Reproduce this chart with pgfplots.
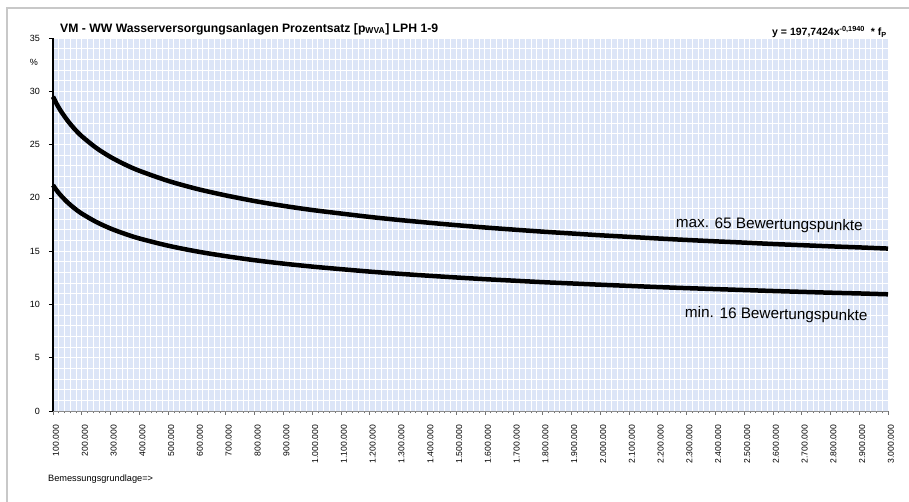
\documentclass[border=0pt]{standalone}
\usepackage{fontspec}
\setmainfont{Liberation Sans}
\usepackage{pgfplots}
\pgfplotsset{compat=1.18}
\definecolor{bgblue}{RGB}{220,229,247}
\definecolor{framegray}{RGB}{200,200,200}
\begin{document}
\begin{tikzpicture}[x=1pt,y=1pt]
\useasboundingbox (0,0) rectangle (909,502);
\draw[framegray, line width=2pt] (7,0) -- (7,494) -- (909,494);
\node[anchor=west, font=\fontsize{12.2}{14}\selectfont\bfseries, inner sep=0pt] at (60,473) {VM - WW Wasserversorgungsanlagen Prozentsatz [p\textsubscript{WVA}] LPH 1-9};
\node[anchor=east, font=\fontsize{10.5}{12}\selectfont\bfseries, inner sep=0pt] at (887,470) {y = 197,7424x\textsuperscript{-0,1940}\ \ * f\textsubscript{P}};
\node[anchor=west, font=\fontsize{9.2}{11}\selectfont, inner sep=0pt] at (48,23) {Bemessungsgrundlage=>};
\node[font=\fontsize{9}{11}\selectfont, inner sep=0pt] at (34,440) {\%};
\begin{axis}[
  at={(53pt,91pt)}, anchor=south west,
  scale only axis, width=835pt, height=373pt,
  xmin=100, xmax=3000, ymin=0, ymax=35,
  axis x line*=bottom, axis y line*=left,
  x axis line style={black!45, line width=0.8pt},
  y axis line style={black, line width=1.2pt},
  axis background/.style={fill=bgblue},
  grid=both,
  major grid style={white, line width=0.9pt},
  minor grid style={white, line width=0.9pt},
  xtick={100,200,...,3000},
  ytick={0,5,...,35},
  minor x tick num=4,
  minor y tick num=4,
  tick align=outside,
  major tick length=4pt,
  minor tick length=2.5pt,
  x tick style={black!55, line width=0.6pt},
  y tick style={black, line width=0.6pt},
  minor y tick style={draw=none},
  /pgf/number format/.cd, fixed, precision=0, 1000 sep={.}, assume math mode=true,
  /pgfplots/.cd,
  xticklabel={\pgfmathprintnumber{\tick}.000},
  xticklabel style={yshift=-10pt, xshift=3pt, rotate=90, anchor=east, inner sep=0pt, font=\fontsize{8.6}{10}\selectfont},
  yticklabel style={font=\fontsize{9}{11}\selectfont, inner sep=0pt, xshift=-9pt},
  clip=false,
]
\addplot[black, line width=4.5pt, smooth] coordinates {
(100,29.49) (110,28.95) (125,28.24) (150,27.27) (175,26.46) (200,25.78) (250,24.69)
(300,23.83) (350,23.13) (400,22.54) (500,21.59) (600,20.84) (700,20.23) (800,19.70)
(900,19.25) (1000,18.86) (1100,18.53) (1200,18.21) (1300,17.93) (1400,17.68)
(1500,17.44) (1600,17.22) (1700,17.02) (1800,16.83) (1900,16.66) (2000,16.49)
(2100,16.34) (2200,16.19) (2300,16.05) (2400,15.92) (2500,15.80) (2600,15.67)
(2700,15.56) (2800,15.45) (2900,15.35) (3000,15.24)
};
\addplot[black, line width=4.5pt, smooth] coordinates {
(100,21.19) (110,20.80) (125,20.29) (150,19.59) (175,19.01) (200,18.52) (250,17.74)
(300,17.12) (350,16.62) (400,16.19) (500,15.51) (600,14.97) (700,14.53) (800,14.15)
(900,13.83) (1000,13.55) (1100,13.31) (1200,13.08) (1300,12.88) (1400,12.70)
(1500,12.53) (1600,12.37) (1700,12.23) (1800,12.09) (1900,11.97) (2000,11.85)
(2100,11.74) (2200,11.63) (2300,11.53) (2400,11.44) (2500,11.35) (2600,11.26)
(2700,11.18) (2800,11.10) (2900,11.03) (3000,10.95)
};
\node[font=\fontsize{15.3}{17}\selectfont, rotate=-1] at (axis cs:2588,17.45) {max. 65 Bewertungspunkte};
\node[font=\fontsize{15.3}{17}\selectfont, rotate=-1] at (axis cs:2612,9.0) {min. 16 Bewertungspunkte};
\end{axis}
\end{tikzpicture}
\end{document}
